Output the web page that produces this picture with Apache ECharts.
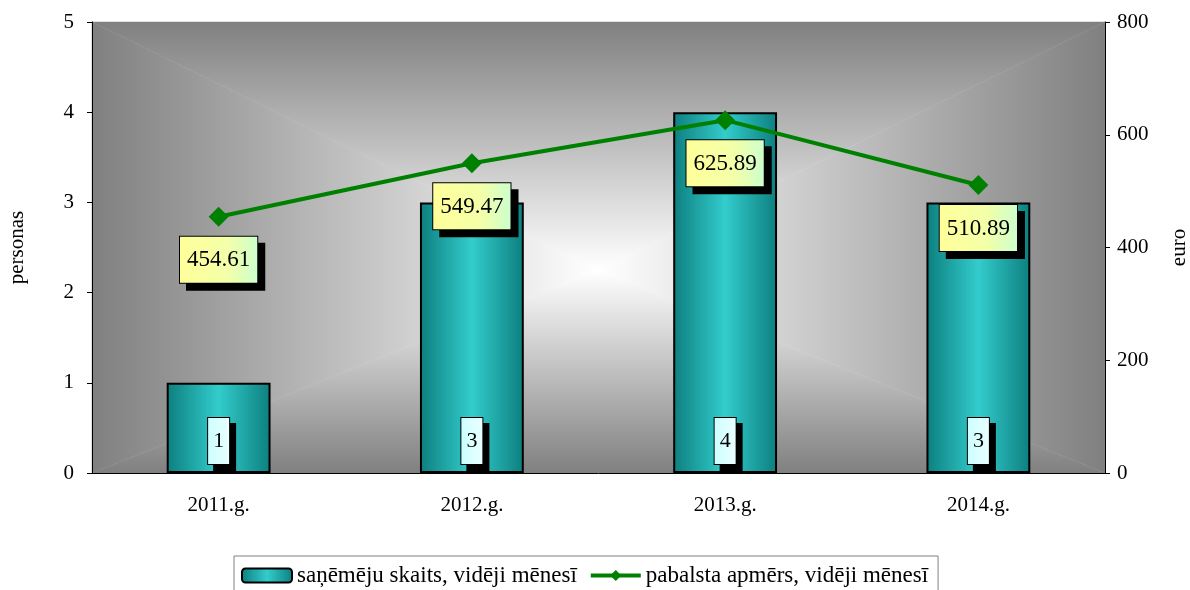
<!DOCTYPE html>
<html><head><meta charset="utf-8">
<script src="https://cdn.jsdelivr.net/npm/echarts@6/dist/echarts.min.js"></script>
<style>html,body{margin:0;padding:0;background:#fff;overflow:hidden}#c{width:1190px;height:590px}</style>
</head><body><div id="c"></div>
<script>
const categories = ['2011.g.', '2012.g.', '2013.g.', '2014.g.'];
const recipients = [1, 3, 4, 3];
const benefit = [454.61, 549.47, 625.89, 510.89];
const leftTicks = [0, 1, 2, 3, 4, 5];
const rightTicks = [0, 200, 400, 600, 800];
const seriesNames = ['saņēmēju skaits, vidēji mēnesī', 'pabalsta apmērs, vidēji mēnesī'];

const serif = '"Liberation Serif", "DejaVu Serif", serif';
const chart = echarts.init(document.getElementById('c'));
const barGrad = new echarts.graphic.LinearGradient(0, 0, 1, 0, [
  {offset: 0, color: '#0d7f7f'}, {offset: 0.5, color: '#33cccc'}, {offset: 1, color: '#0d7f7f'}
]);
const yellowGrad = new echarts.graphic.LinearGradient(0, 0, 1, 0, [
  {offset: 0, color: '#ffff99'}, {offset: 0.6, color: '#f4ffa8'}, {offset: 1, color: '#ccffcc'}
]);
const cyanGrad = new echarts.graphic.LinearGradient(0, 0, 1, 0, [
  {offset: 0, color: '#ccffff'}, {offset: 1, color: '#eaffff'}
]);
const GRID = {left: 92, right: 85, top: 22, bottom: 117};
chart.setOption({
  animation: false,
  textStyle: {fontFamily: serif},
  grid: Object.assign({show: false, outerBoundsMode: 'none', containLabel: false}, GRID),
  legend: {
    top: 556, left: 234, itemGap: 12,
    borderColor: '#808080', borderWidth: 1, padding: [8, 10, 10, 7],
    itemWidth: 50, itemHeight: 14,
    textStyle: {fontFamily: serif, fontSize: 23, color: '#000'},
    data: [
      {name: seriesNames[0], itemStyle: {color: barGrad, borderColor: '#000', borderWidth: 2}},
      {name: seriesNames[1], lineStyle: {width: 4, color: '#008000'}, itemStyle: {color: '#008000'}}
    ]
  },
  xAxis: {
    type: 'category', data: categories, z: 5,
    axisLine: {lineStyle: {color: '#000', width: 1}},
    axisTick: {length: 5, lineStyle: {color: '#000'}},
    axisLabel: {color: '#000', fontSize: 21, margin: 22, fontFamily: serif}
  },
  yAxis: [
    {type: 'value', min: leftTicks[0], max: leftTicks[leftTicks.length - 1], interval: 1, z: 5,
     name: 'personas', nameLocation: 'middle', nameGap: 64, nameRotate: 90,
     nameTextStyle: {fontSize: 21, color: '#000', fontFamily: serif},
     axisLine: {show: true, lineStyle: {color: '#000'}},
     axisTick: {show: true, length: 5, lineStyle: {color: '#000'}},
     axisLabel: {color: '#000', fontSize: 21, margin: 18, fontFamily: serif},
     splitLine: {show: false}},
    {type: 'value', min: rightTicks[0], max: rightTicks[rightTicks.length - 1], interval: 200, z: 5,
     name: 'euro', nameLocation: 'middle', nameGap: 64, nameRotate: 90,
     nameTextStyle: {fontSize: 21, color: '#000', fontFamily: serif},
     axisLine: {show: true, lineStyle: {color: '#000'}},
     axisTick: {show: true, length: 5, lineStyle: {color: '#000'}},
     axisLabel: {color: '#000', fontSize: 21, margin: 12, fontFamily: serif},
     splitLine: {show: false}}
  ],
  series: [
    {name: seriesNames[0], type: 'bar', data: recipients, yAxisIndex: 0, barWidth: '41%', z: 3,
     itemStyle: {color: barGrad, borderColor: '#000', borderWidth: 2},
     label: {show: true, position: 'insideBottom', distance: 9,
       fontFamily: serif, fontSize: 22, color: '#000',
       backgroundColor: cyanGrad, borderColor: '#000', borderWidth: 1,
       padding: [12, 5, 12, 5],
       shadowColor: '#000', shadowBlur: 0, shadowOffsetX: 6, shadowOffsetY: 6}},
    {name: seriesNames[1], type: 'line', data: benefit, yAxisIndex: 1, z: 4,
     symbol: 'diamond', symbolSize: 20,
     lineStyle: {color: '#008000', width: 4}, itemStyle: {color: '#008000'},
     label: {show: true, position: 'bottom', distance: 10,
       fontFamily: serif, fontSize: 23, color: '#000',
       formatter: p => p.value.toFixed(2),
       backgroundColor: yellowGrad, borderColor: '#000', borderWidth: 1,
       padding: [12, 7, 11, 7],
       shadowColor: '#000', shadowBlur: 0, shadowOffsetX: 7, shadowOffsetY: 7}}
  ]
});

// "from centre" rectangular background gradient of the plot area (decoration only)
function drawBackground() {
  const rect = chart.getModel().getComponent('grid').coordinateSystem.getRect();
  const x0 = rect.x, y0 = rect.y, x1 = rect.x + rect.width, y1 = rect.y + rect.height;
  const cx = x0 + rect.width * 0.5, cy = y0 + rect.height * 0.55;
  const stops = () => [{offset: 0, color: '#808080'}, {offset: 1, color: '#ffffff'}];
  const tri = (pts, g) => ({type: 'polygon', silent: true, z: -10, shape: {points: pts},
    style: {fill: g, stroke: g, lineWidth: 0.5}});
  const LG = echarts.graphic.LinearGradient;
  chart.setOption({graphic: [
    tri([[x0, y0], [x1, y0], [cx, cy]], new LG(0, y0, 0, cy, stops(), true)),
    tri([[x0, y1], [x1, y1], [cx, cy]], new LG(0, y1, 0, cy, stops(), true)),
    tri([[x0, y0], [x0, y1], [cx, cy]], new LG(x0, 0, cx, 0, stops(), true)),
    tri([[x1, y0], [x1, y1], [cx, cy]], new LG(x1, 0, cx, 0, stops(), true))
  ]});
}
drawBackground();
</script></body></html>
